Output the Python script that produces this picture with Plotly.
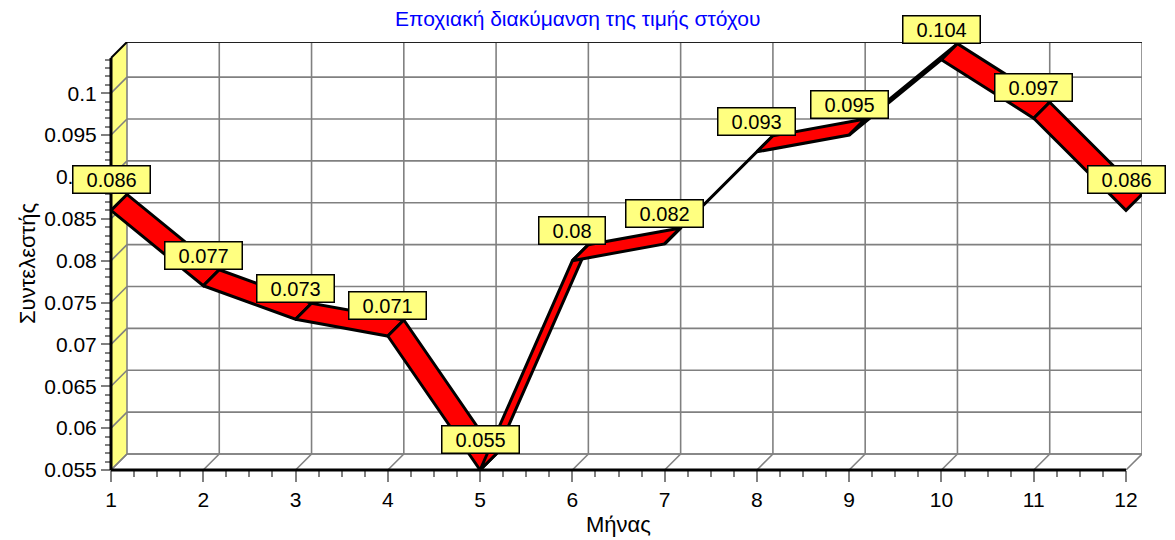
import plotly.graph_objects as go

# Monthly seasonal coefficient data
months = [1, 2, 3, 4, 5, 6, 7, 8, 9, 10, 11, 12]
coef = [0.086, 0.077, 0.073, 0.071, 0.055, 0.080, 0.082, 0.093, 0.095, 0.104, 0.097, 0.086]
labels = ["0.086", "0.077", "0.073", "0.071", "0.055", "0.08", "0.082", "0.093", "0.095", "0.104", "0.097", "0.086"]

y_tickvals = [0.055, 0.06, 0.065, 0.07, 0.075, 0.08, 0.085, 0.09, 0.095, 0.1]
y_ticktext = ["0.055", "0.06", "0.065", "0.07", "0.075", "0.08", "0.085", "0.09", "0.095", "0.1"]
y_minor = [round(0.055 + 0.001 * k, 3) for k in range(0, 50)]
x_ticks = months

title = "Εποχιακή διακύμανση της τιμής στόχου"
x_title = "Μήνας"
y_title = "Συντελεστής"

# ---- layout geometry (pixels) ----
W, H = 1175, 540
ML, MR, MT, MB = 107, 33, 42, 66
PAD = 4            # gap between plot edge and the front axes
DEPTH = 16         # 3-D depth offset of the back wall
PW, PH = W - ML - MR, H - MT - MB
Y0, Y_TOP = 0.055, 0.1042
ux = (PW - PAD - DEPTH) / (months[-1] - months[0])
uy = (PH - PAD - DEPTH) / (Y_TOP - Y0)
ddx, ddy = DEPTH / ux, DEPTH / uy
x_rng = [months[0] - PAD / ux, months[-1] + ddx]
y_rng = [Y0 - PAD / uy, Y_TOP + ddy]

X0, X1 = months[0], months[-1]
GRID = dict(color="#808080", width=1.6)
FONT = "Liberation Sans, Arial, sans-serif"

shapes = []
def line(x0, y0, x1, y1, ln, layer="below"):
    shapes.append(dict(type="line", xref="x", yref="y", x0=x0, y0=y0, x1=x1, y1=y1,
                       line=ln, layer=layer))

# left (yellow) wall
shapes.append(dict(type="path", xref="x", yref="y", layer="below",
                   path=f"M{X0},{Y0} L{X0+ddx},{Y0+ddy} L{X0+ddx},{Y_TOP+ddy} L{X0},{Y_TOP} Z",
                   fillcolor="#ffff80", line=dict(width=0)))
# wall diagonals at major ticks
for v in y_tickvals:
    line(X0, v, X0 + ddx, v + ddy, GRID)
# floor diagonals at each month
for m in x_ticks:
    line(m, Y0, m + ddx, Y0 + ddy, GRID)
# back wall horizontal gridlines
for v in y_tickvals:
    line(X0 + ddx, v + ddy, X1 + ddx, v + ddy, GRID)
line(X0 + ddx, Y0 + ddy, X1 + ddx, Y0 + ddy, GRID)
# back wall vertical gridlines
for m in x_ticks:
    line(m + ddx, Y0 + ddy, m + ddx, Y_TOP + ddy, GRID)
# top edges of the box
line(X0 + ddx, Y_TOP + ddy, X1 + ddx, Y_TOP + ddy, dict(color="#202020", width=2))
line(X0, Y_TOP, X0 + ddx, Y_TOP + ddy, dict(color="#000000", width=2))

fig = go.Figure()

# ribbon: one extruded face per segment
for i in range(len(months) - 1):
    xa, xb = months[i], months[i + 1]
    ya, yb = coef[i], coef[i + 1]
    fig.add_trace(go.Scatter(
        x=[xa, xb, xb + ddx, xa + ddx, xa],
        y=[ya, yb, yb + ddy, ya + ddy, ya],
        mode="lines", fill="toself", fillcolor="#ff0000",
        line=dict(color="#000000", width=3), hoverinfo="skip", showlegend=False))

# front axes
line(X0, Y0, X0, Y_TOP, dict(color="#000000", width=3), layer="above")
line(X0, Y0, X1, Y0, dict(color="#000000", width=3), layer="above")

annotations = []
NB = "\u00a0\u00a0"
for m, v, t in zip(months, coef, labels):
    annotations.append(dict(x=m, y=v, xref="x", yref="y", text=NB + t + NB, showarrow=False,
                            yanchor="bottom", yshift=16, bgcolor="#ffff80",
                            bordercolor="#000000", borderwidth=1.5, borderpad=2,
                            font=dict(family=FONT, size=20, color="#000000")))

annotations.append(dict(text=title, xref="paper", yref="paper", x=(577 - ML) / PW, y=1,
                        yanchor="middle", yshift=MT - 18, showarrow=False,
                        font=dict(family=FONT, size=21, color="#0000ff")))
annotations.append(dict(text=x_title, xref="paper", yref="paper", x=(618 - ML) / PW, y=0,
                        yanchor="middle", yshift=-(524 - (H - MB)), showarrow=False,
                        font=dict(family=FONT, size=22, color="#000000")))
annotations.append(dict(text=y_title, xref="paper", yref="paper", x=0, y=0.5,
                        xanchor="center", yanchor="middle", xshift=27 - ML, yshift=-6,
                        textangle=-90, showarrow=False,
                        font=dict(family=FONT, size=22, color="#000000")))

TICKFONT = dict(family=FONT, size=21, color="#000000")
fig.update_layout(
    width=W, height=H,
    margin=dict(l=ML, r=MR, t=MT, b=MB, pad=0),
    paper_bgcolor="white", plot_bgcolor="white",
    showlegend=False,
    shapes=shapes, annotations=annotations,
    xaxis=dict(range=x_rng, tickmode="array", tickvals=x_ticks, ticktext=[str(m) for m in x_ticks],
               showgrid=False, zeroline=False, showline=False,
               anchor="free", position=PAD / PH,
               ticks="outside", ticklen=11, tickwidth=2, tickcolor="#808080",
               minor=dict(dtick=0.25, tick0=1, ticks="outside", ticklen=6, tickwidth=2,
                          tickcolor="#808080", showgrid=False),
               tickfont=TICKFONT, fixedrange=True),
    yaxis=dict(range=y_rng, tickmode="array", tickvals=y_tickvals, ticktext=y_ticktext,
               showgrid=False, zeroline=False, showline=False,
               anchor="free", position=PAD / PW,
               ticks="outside", ticklen=10, tickwidth=2, tickcolor="#808080",
               minor=dict(tickmode="array", tickvals=y_minor, ticks="outside", ticklen=6,
                          tickwidth=2, tickcolor="#808080", showgrid=False),
               tickfont=TICKFONT, fixedrange=True),
)

fig.write_html("out.html")
